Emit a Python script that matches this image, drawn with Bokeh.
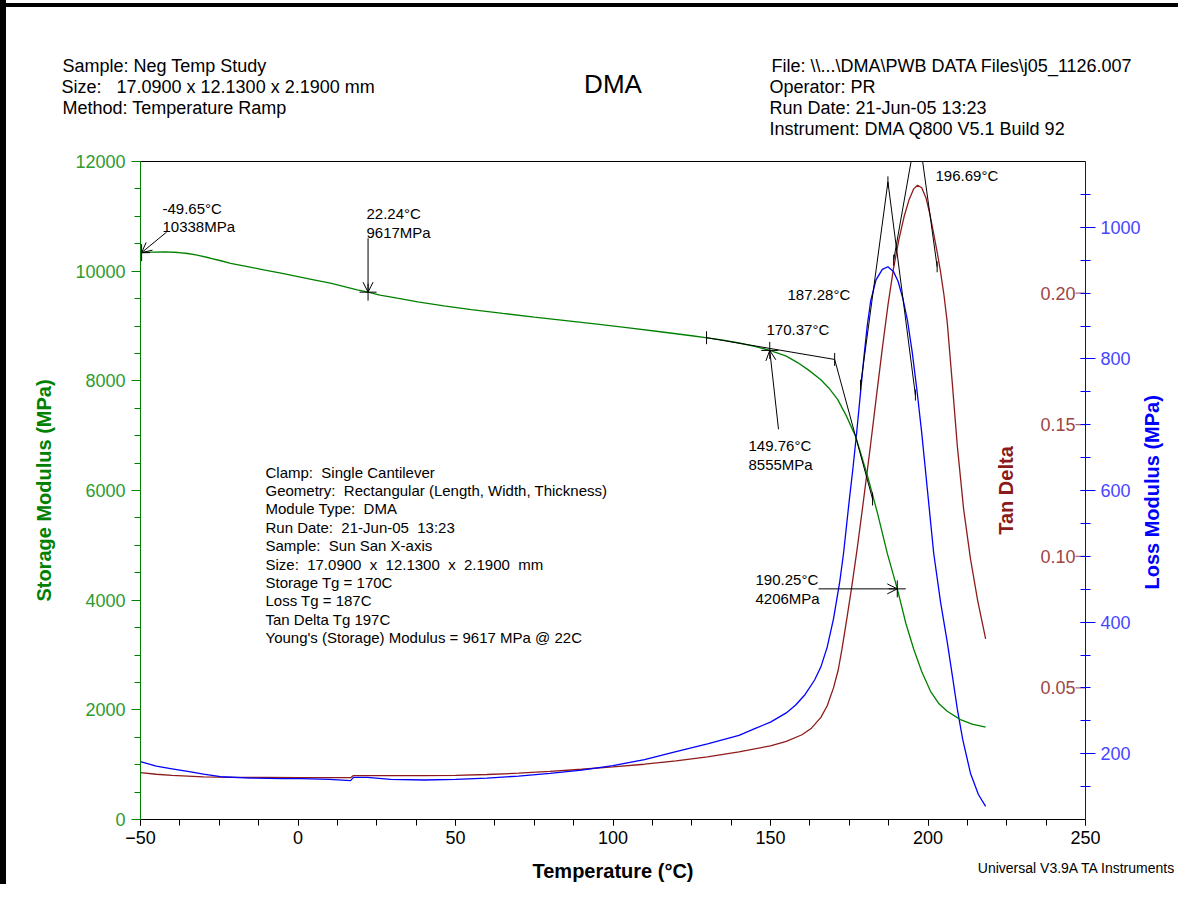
import math
from bokeh.plotting import figure
from bokeh.models import (Range1d, LinearAxis, Label, Arrow, OpenHead,
                          FixedTicker, InlineStyleSheet)
from bokeh.core.properties import value
from bokeh.embed import file_html
from bokeh.resources import INLINE

# ---------------- data ----------------
temp_storage = [-50, -46, -42, -38, -35, -32, -28, -24.5, -21.4, -16, -10.9, -5, 0, 5, 10.3,
                15, 18.8, 22.24, 26, 31.5, 38, 46.3, 55, 65, 75, 85, 95, 105, 115, 125, 130,
                135, 140, 145, 149.76, 153, 155, 158.6, 162, 165.9, 168.5, 171.3, 174, 177,
                180.8, 184, 187.1, 190.25, 191.5, 193, 195.5, 198, 200.8, 203.5, 206.1,
                210.3, 214, 218.3]
storage_mpa = [10338, 10348, 10350, 10340, 10322, 10294, 10240, 10190, 10143, 10083, 10022,
               9958, 9900, 9842, 9780, 9715, 9659, 9617, 9565, 9507, 9440, 9368, 9300, 9230,
               9163, 9098, 9033, 8965, 8895, 8822, 8785, 8742, 8690, 8630, 8555, 8490, 8450,
               8333, 8200, 8025, 7870, 7662, 7370, 6990, 6264, 5580, 4850, 4206, 3920, 3570,
               3100, 2700, 2337, 2110, 1973, 1821, 1740, 1683]

temp_loss = [-50, -45, -40, -35, -30, -24.6, -15, -5, 0.8, 10, 16.7, 17.6, 22, 29.4, 40, 50,
             60, 70, 80, 90, 100, 110, 120, 130, 140, 145, 150, 155, 158, 161, 164, 166,
             168, 170, 172, 173.2, 175, 176.2, 177.4, 178.5, 179.6, 180.7, 181.8, 183.5,
             185.5, 187.28, 189, 190.5, 192, 193.5, 195, 196.5, 198, 200, 201.8, 204, 206.1,
             208, 209.3, 211, 213.5, 216, 218.3]
loss_mpa = [188, 181, 177, 173, 169, 165, 163, 162, 162, 161, 159, 164, 164, 161, 160, 161,
            163, 166, 170, 175, 182, 191, 203, 215, 228, 238, 248, 262, 274, 290, 312, 332,
            362, 405, 462, 505, 585, 635, 690, 745, 800, 850, 888, 920, 936, 940, 933, 918,
            892, 858, 810, 752, 688, 592, 505, 430, 370, 310, 268, 222, 170, 138, 120]

temp_tan = [-50, -45, -40, -30, -20, -10, 0, 10, 16.7, 17.6, 30, 40, 50, 60, 70, 80, 90, 100,
            110, 120, 130, 140, 150, 155, 160, 163, 166, 168, 170, 171.5, 172.7, 174.2,
            175.8, 177.5, 179.5, 181.7, 183.5, 185.5, 187.3, 189, 190.7, 192.4, 194, 195.4,
            196.69, 198, 199.4, 200.6, 201.8, 203, 204, 205.1, 206.1, 207.7, 209.3, 211.3,
            213.5, 215.8, 218.3]
tan_delta = [0.0178, 0.0172, 0.0168, 0.0162, 0.0160, 0.0160, 0.0159, 0.0159, 0.0159, 0.0167,
             0.0167, 0.0167, 0.0168, 0.0171, 0.0176, 0.0183, 0.0191, 0.0200, 0.0210, 0.0223,
             0.0238, 0.0257, 0.0280, 0.0297, 0.0322, 0.0347, 0.0388, 0.0432, 0.0500, 0.0568,
             0.0648, 0.0760, 0.0885, 0.1027, 0.1210, 0.1417, 0.1595, 0.1790, 0.1955, 0.2090,
             0.2200, 0.2290, 0.2355, 0.2395, 0.2410, 0.2400, 0.2360, 0.2300, 0.2226, 0.2150,
             0.2080, 0.1990, 0.1890, 0.1660, 0.1420, 0.1180, 0.0989, 0.0830, 0.0686]

x_ticks = [-50, 0, 50, 100, 150, 200, 250]
storage_ticks = [0, 2000, 4000, 6000, 8000, 10000, 12000]
loss_ticks = [200, 400, 600, 800, 1000]
tan_ticks = [0.05, 0.10, 0.15, 0.20]
tan_tick_labels = ["0.05", "0.10", "0.15", "0.20"]

# analysis marks
mark_temp = [-49.65, 22.24, 149.76, 190.25]
mark_storage = [10338, 9617, 8555, 4206]
onset_temp = [129.7, 170.37, 182.4]
onset_storage = [8787, 8390, 5846]
loss_peak_temp = [178.6, 187.28, 196.0]
loss_peak_val = [760, 1069, 745]
tan_peak_temp = [189.1, 196.69, 202.9]
tan_peak_val = [0.2125, 0.264, 0.21]

NB = "\u00a0"
header_left = ["Sample: Neg Temp Study", "Size:" + NB * 2 + " 17.0900 x 12.1300 x 2.1900 mm",
               "Method: Temperature Ramp"]
header_right = ["File: \\\\...\\DMA\\PWB DATA Files\\j05_1126.007", "Operator: PR",
                "Run Date: 21-Jun-05 13:23", "Instrument: DMA Q800 V5.1 Build 92"]
info_lines = ["Clamp:" + NB + " Single Cantilever",
              "Geometry:" + NB + " Rectangular (Length, Width, Thickness)",
              "Module Type:" + NB + " DMA",
              "Run Date:" + NB + " 21-Jun-05" + NB + " 13:23",
              "Sample:" + NB + " Sun San X-axis",
              "Size:" + NB + " 17.0900" + NB + " x" + NB + " 12.1300" + NB + " x" + NB
              + " 2.1900" + NB + " mm",
              "Storage Tg = 170C",
              "Loss Tg = 187C",
              "Tan Delta Tg 197C",
              "Young's (Storage) Modulus = 9617 MPa @ 22C"]

# ---------------- layout ----------------
FONT = "Liberation Sans"
FL, FR, FT, FB = 140, 1085, 161, 822  # frame edges in canvas pixels
W, H = 1178, 884
GREEN, BLUE, RED = "#008000", "#0000FF", "#8E1B1B"

# Arial / Liberation Sans advance widths (1/1000 em), for placing left-aligned texts
_AW = {' ': 278, NB: 278, "'": 191, '(': 333, ')': 333, ',': 278, '-': 333, '.': 278,
       '/': 278, ':': 278, '=': 584, '@': 1015, '\\': 278, '_': 556, '°': 400}
_AW.update({c: 556 for c in "0123456789"})
_AW.update(dict(zip("ABCDEFGHIJKLMNOPQRSTUVWXYZ",
                    [667, 667, 722, 722, 667, 611, 778, 722, 278, 500, 667, 556, 833, 722,
                     778, 667, 778, 722, 667, 611, 722, 667, 944, 667, 667, 611])))
_AW.update(dict(zip("abcdefghijklmnopqrstuvwxyz",
                    [556, 556, 500, 556, 556, 278, 556, 556, 222, 222, 500, 222, 833, 556,
                     556, 556, 556, 333, 500, 278, 556, 500, 722, 500, 500, 500])))


def text_width(s, size):
    return sum(_AW.get(c, 556) for c in s) * size / 1000.0


def tx(px):
    return -50 + (px - FL) * 300.0 / (FR - FL)


def ey(py):
    return (FB - py) * 12000.0 / (FB - FT)


border_css = InlineStyleSheet(css="""
:host { position: relative; }
:host::before { content: ""; position: absolute; left: 0; top: 3px; width: 100%;
                height: 4px; background: black; z-index: 50; pointer-events: none; }
:host::after { content: ""; position: absolute; left: 0; top: 0; width: 6px;
               height: 100%; background: black; z-index: 50; pointer-events: none; }
""")

p = figure(width=W, height=H, output_backend="svg", toolbar_location=None, title=None,
           x_range=Range1d(-50, 250), y_range=Range1d(0, 12000),
           min_border_left=FL, min_border_right=W - FR,
           min_border_top=FT, min_border_bottom=H - FB)
p.stylesheets = [border_css]
p.extra_y_ranges = {"loss": Range1d(100, 1100), "tan": Range1d(0, 0.25)}
p.grid.visible = False
p.outline_line_color = None
p.background_fill_color = "white"
p.border_fill_color = "white"

# bottom axis
xa = p.xaxis[0]
xa.ticker = FixedTicker(ticks=x_ticks, minor_ticks=[-50 + 12.5 * i for i in range(25)])
xa.axis_line_color = "black"
xa.major_tick_line_color = "black"
xa.minor_tick_line_color = "black"
xa.major_tick_out, xa.major_tick_in = 6, 0
xa.minor_tick_out, xa.minor_tick_in = 6, 0
xa.major_label_text_font = FONT
xa.major_label_text_font_size = "18px"
xa.major_label_text_color = "black"
xa.major_label_standoff = 5
xa.axis_label = "Temperature (°C)"
xa.axis_label_text_font = FONT
xa.axis_label_text_font_size = "20px"
xa.axis_label_text_font_style = "bold"
xa.axis_label_text_color = "black"
xa.axis_label_standoff = 13

# left axis
ya = p.yaxis[0]
ya.ticker = FixedTicker(ticks=storage_ticks, minor_ticks=list(range(0, 12001, 500)))
ya.axis_line_color = GREEN
ya.major_tick_line_color = GREEN
ya.minor_tick_line_color = GREEN
ya.major_tick_out, ya.major_tick_in = 9, 0
ya.minor_tick_out, ya.minor_tick_in = 6, 0
ya.major_label_text_font = FONT
ya.major_label_text_font_size = "18px"
ya.major_label_text_color = "#2E9B2E"
ya.major_label_standoff = 6
ya.axis_label = "Storage Modulus (MPa)"
ya.axis_label_text_font = FONT
ya.axis_label_text_font_size = "20px"
ya.axis_label_text_font_style = "bold"
ya.axis_label_text_color = GREEN
ya.axis_label_standoff = 17

# right (loss) axis
la = LinearAxis(y_range_name="loss",
                ticker=FixedTicker(ticks=loss_ticks, minor_ticks=list(range(150, 1100, 50))))
la.axis_line_color = BLUE
la.major_tick_line_color = BLUE
la.minor_tick_line_color = BLUE
la.major_tick_out, la.major_tick_in = 10, 5
la.minor_tick_out, la.minor_tick_in = 5, 5
la.major_label_text_font = FONT
la.major_label_text_font_size = "18px"
la.major_label_text_color = "#4646FF"
la.major_label_standoff = 5
p.add_layout(la, "right")


def text_axis(side, items, size, standoff, color="black", style="normal",
              line_color=None, range_name=None, orientation="horizontal"):
    """An axis used only to carry texts in the side panels (outside the frame)."""
    ticks = [round(pos, 4) for pos, _ in items]
    kw = {"y_range_name": range_name} if range_name else {}
    ax = LinearAxis(ticker=FixedTicker(ticks=ticks, minor_ticks=[]),
                    major_label_overrides={t: txt for t, (_, txt) in zip(ticks, items)},
                    axis_line_color=line_color, major_tick_line_color=None,
                    minor_tick_line_color=None, major_tick_out=0, major_tick_in=0,
                    minor_tick_out=0, minor_tick_in=0, major_label_standoff=standoff,
                    major_label_text_font=FONT, major_label_text_font_size=size,
                    major_label_text_color=color, major_label_text_font_style=style,
                    major_label_orientation=orientation, **kw)
    p.add_layout(ax, side)
    return ax


# loss modulus title, reading bottom to top (the text starts at its tick)
loss_title_start = 100 + (FB - 591) * 1000.0 / (FB - FT)
text_axis("right", [(loss_title_start, "Loss Modulus (MPa)")], "20px", 9, color=BLUE,
          style="bold", range_name="loss", orientation=math.pi / 2)


def left_item(px, text, size):
    return (tx(px + text_width(text, size) / 2.0), text)


# header rows (nearest the frame first); the first one also draws the frame's top line
text_axis("above", [left_item(769, header_right[3], 18)], "18px", 23, line_color="black")
text_axis("above", [left_item(61, header_left[2], 18), left_item(769, header_right[2], 18)],
          "18px", -2)
text_axis("above", [left_item(61, header_left[1], 18), left_item(769, header_right[1], 18)],
          "18px", -2)
row1 = text_axis("above", [left_item(61, header_left[0], 18),
                           left_item(769, header_right[0], 18)], "18px", -2)
row1.axis_label = "DMA"
row1.axis_label_text_font = FONT
row1.axis_label_text_font_size = "26px"
row1.axis_label_text_font_style = "normal"
row1.axis_label_text_color = "black"
row1.axis_label_standoff = -46

# footer
footer = "Universal V3.9A TA Instruments"
text_axis("below", [(tx(1176 - text_width(footer, 14) / 2.0), footer)], "14px", -25)

# curves
p.line(temp_tan, tan_delta, y_range_name="tan", line_color=RED, line_width=1.3)
p.line(temp_loss, loss_mpa, y_range_name="loss", line_color=BLUE, line_width=1.3)
p.line(temp_storage, storage_mpa, line_color=GREEN, line_width=1.3)

# tan delta axis (inside the frame, on the right edge)
p.scatter(x=[250] * len(tan_ticks), y=tan_ticks, y_range_name="tan", marker="dash",
          size=20, line_color="#A04545", line_width=1)
p.text(x=[250] * len(tan_ticks), y=tan_ticks, text=tan_tick_labels, y_range_name="tan",
       x_offset=-10, text_align="right", text_baseline="middle",
       text_font=value(FONT), text_font_size=value("18px"), text_color="#A04545")
p.add_layout(Label(x=250, y=0.125, y_range_name="tan", x_offset=-80, text="Tan Delta",
                   angle=math.pi / 2, text_align="center", text_baseline="middle",
                   text_font=FONT, text_font_size="20px", text_font_style="bold",
                   text_color="#8B1A1A"))

# analysis constructions
p.line(onset_temp, onset_storage, line_color="black", line_width=1)
p.scatter(onset_temp, onset_storage, marker="dash", angle=math.pi / 2, size=13,
          line_color="black")
p.line(loss_peak_temp, loss_peak_val, y_range_name="loss", line_color="black", line_width=1)
p.scatter(loss_peak_temp, loss_peak_val, y_range_name="loss", marker="dash",
          angle=math.pi / 2, size=11, line_color="black")
p.line(tan_peak_temp, tan_peak_val, y_range_name="tan", line_color="black", line_width=1)
p.scatter([tan_peak_temp[0], tan_peak_temp[2]], [tan_peak_val[0], tan_peak_val[2]],
          y_range_name="tan", marker="dash", angle=math.pi / 2, size=11, line_color="black")
p.scatter(mark_temp, mark_storage, marker="cross", size=17, line_color="black", line_width=1)

arrow_starts = [(tx(166), ey(232)), (mark_temp[1], ey(238)), (tx(778), ey(430)),
                (tx(818), mark_storage[3])]
for (xs, ys), xe, ye in zip(arrow_starts, mark_temp, mark_storage):
    p.add_layout(Arrow(end=OpenHead(size=10, line_width=1, line_color="black"),
                       x_start=xs, y_start=ys, x_end=xe, y_end=ye,
                       line_color="black", line_width=1))


def label(px, py, text, size="15px", color="black", align="left", style="normal"):
    p.add_layout(Label(x=tx(px), y=ey(py), text=text, text_align=align,
                       text_baseline="middle", text_font=FONT, text_font_size=size,
                       text_color=color, text_font_style=style))


# point labels
label(162, 208, "%.2f°C" % mark_temp[0])
label(162, 226, "%dMPa" % mark_storage[0])
label(366, 213, "%.2f°C" % mark_temp[1])
label(366, 232, "%dMPa" % mark_storage[1])
label(748, 446, "%.2f°C" % mark_temp[2])
label(748, 465, "%dMPa" % mark_storage[2])
label(755, 581, "%.2f°C" % mark_temp[3])
label(755, 600, "%dMPa" % mark_storage[3])
label(766, 330, "%.2f°C" % onset_temp[1])
label(787, 295, "%.2f°C" % loss_peak_temp[1])
label(935, 175, "%.2f°C" % tan_peak_temp[1])

# info box
for i, line in enumerate(info_lines):
    label(265, 473 + 18.5 * i, line)

open("out.html", "w").write(file_html(p, INLINE))
